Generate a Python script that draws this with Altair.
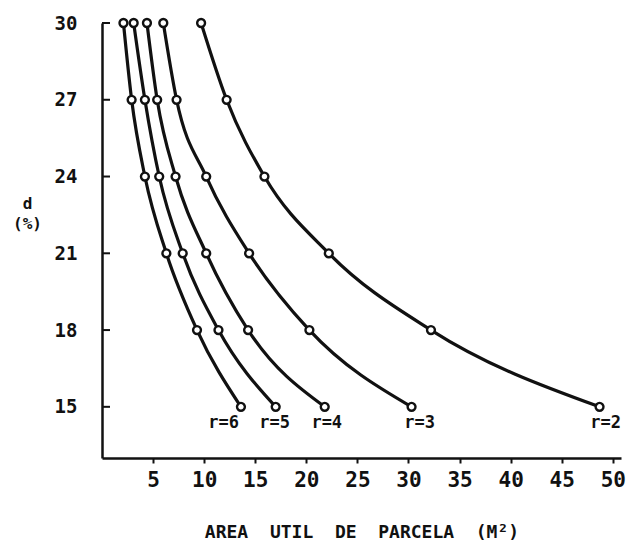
import altair as alt
import pandas as pd

# ---- data ----
d_values = [30, 27, 24, 21, 18, 15]
area_r2 = [9.7, 12.2, 15.9, 22.2, 32.2, 48.7]
area_r3 = [6.0, 7.3, 10.2, 14.4, 20.3, 30.3]
area_r4 = [4.4, 5.4, 7.2, 10.2, 14.3, 21.8]
area_r5 = [3.1, 4.2, 5.6, 7.9, 11.4, 17.0]
area_r6 = [2.1, 2.9, 4.2, 6.3, 9.3, 13.6]
series_names = ["r=2", "r=3", "r=4", "r=5", "r=6"]
label_area = [49.3, 31.1, 22.0, 16.9, 11.9]
label_d = [14.38, 14.38, 14.38, 14.38, 14.38]
y_ticks = [15, 18, 21, 24, 27, 30]
x_ticks = [5, 10, 15, 20, 25, 30, 35, 40, 45, 50]

series = [area_r2, area_r3, area_r4, area_r5, area_r6]
rows = []
for name, vals in zip(series_names, series):
    for d, a in zip(d_values, vals):
        rows.append({"r": name, "area": a, "d": d})
df = pd.DataFrame(rows)
labels_df = pd.DataFrame({"r": series_names, "area": label_area, "d": label_d})
yt_df = pd.DataFrame({"t": y_ticks})

INK = "#111111"
FONT = "DejaVu Sans Mono"

x_scale = alt.Scale(domain=[0, 50.8], nice=False, zero=False)
y_scale = alt.Scale(domain=[13, 30], nice=False, zero=False)

x_enc = alt.X(
    "area:Q",
    scale=x_scale,
    axis=alt.Axis(
        values=x_ticks,
        title="AREA\u00a0 UTIL\u00a0 DE\u00a0 PARCELA\u00a0 (M²)",
        titleFont=FONT,
        titleFontSize=18,
        titleFontWeight="bold",
        titleColor=INK,
        titleY=74,
        titleBaseline="middle",
        labelFont=FONT,
        labelFontSize=21,
        labelFontWeight="bold",
        labelColor=INK,
        labelPadding=6,
        tickSize=5,
        tickWidth=2,
        tickColor=INK,
        domainWidth=2.5,
        domainColor=INK,
        grid=False,
    ),
)
y_enc = alt.Y(
    "d:Q",
    scale=y_scale,
    axis=alt.Axis(
        values=y_ticks,
        title=["d", "(%)"],
        titleAngle=0,
        titleX=-75,
        titleY=180,
        titleAlign="center",
        titleBaseline="middle",
        titleLineHeight=20,
        titleFont=FONT,
        titleFontSize=16,
        titleFontWeight="bold",
        titleColor=INK,
        labelFont=FONT,
        labelFontSize=19,
        labelFontWeight="bold",
        labelColor=INK,
        labelPadding=25,
        ticks=False,
        tickSize=0,
        domainWidth=2.5,
        domainColor=INK,
        grid=False,
    ),
)

lines = alt.Chart(df).mark_line(
    interpolate="monotone", color=INK, strokeWidth=3.2
).encode(x=x_enc, y=y_enc, detail="r:N")

points = alt.Chart(df).mark_point(
    shape="circle", filled=False, fill="white", fillOpacity=1,
    stroke=INK, strokeWidth=2.4, size=62, opacity=1
).encode(x="area:Q", y="d:Q")

texts = alt.Chart(labels_df).mark_text(
    font=FONT, fontSize=17, fontWeight="bold", color=INK,
    align="center", baseline="middle"
).encode(x="area:Q", y="d:Q", text="r:N")

yticks = alt.Chart(yt_df).mark_rule(color=INK, strokeWidth=2).encode(
    x=alt.value(0), x2=alt.value(8), y=alt.Y("t:Q", scale=y_scale)
)

chart = alt.layer(lines, points, texts, yticks).properties(
    width=519,
    height=435,
    autosize=alt.AutoSizeParams(type="none"),
    padding={"left": 102, "top": 23, "right": 23, "bottom": 87},
    background="white",
).configure_view(stroke=None)

chart.save("out.html", embed_options={"renderer": "svg", "actions": False})
